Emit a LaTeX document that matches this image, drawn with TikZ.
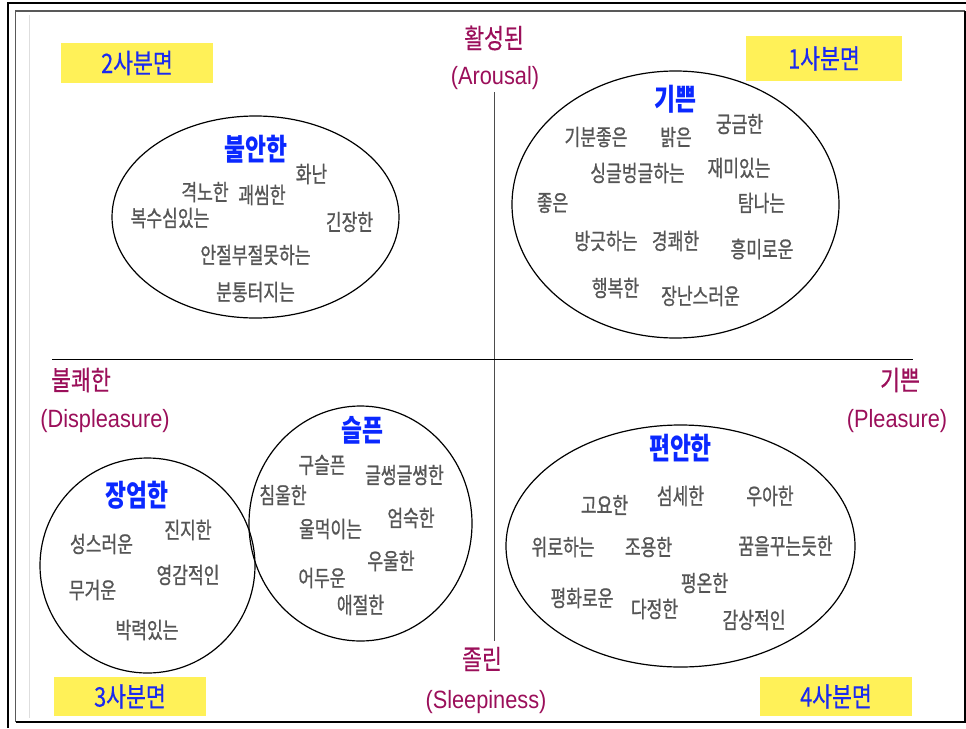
\documentclass[tikz,border=0pt]{standalone}
\usepackage{fontspec}
\setmainfont{Liberation Sans}
\newfontfamily\krw[FakeStretch=0.76,FakeBold=0.9]{Noto Sans CJK KR}
\newfontfamily\krt[FakeStretch=0.76]{Noto Sans CJK KR}
\newfontfamily\kra[FakeStretch=0.8,FakeBold=0.5]{Noto Sans CJK KR}
\newfontfamily\lat[FakeStretch=0.87]{Liberation Sans}
\usetikzlibrary{shapes.geometric}
\definecolor{axiscol}{HTML}{9B0F5A}
\definecolor{wordgray}{HTML}{555555}
\definecolor{titleblue}{HTML}{0A28FF}
\definecolor{quadblue}{HTML}{1A2AF0}
\definecolor{boxyellow}{HTML}{FFF158}
\tikzset{
  word/.style={font=\krw\fontsize{22.5}{23}\selectfont, text=wordgray, inner sep=0pt},
  title/.style={font=\krt\bfseries\fontsize{30}{31}\selectfont, text=titleblue, inner sep=0pt},
  axkr/.style={font=\kra\fontsize{27}{28}\selectfont, text=axiscol, inner sep=0pt},
  axen/.style={font=\lat\fontsize{25}{26}\selectfont, text=axiscol, inner sep=0pt},
  quadbox/.style={fill=boxyellow, inner sep=0pt, font=\kra\fontsize{27}{28}\selectfont, text=quadblue},
  cluster/.style={draw=black, line width=1.2pt, ellipse, inner sep=0pt},
  axisline/.style={line width=1pt},
}
\begin{document}
\begin{tikzpicture}[x=1pt,y=-1pt]
\useasboundingbox (0,0) rectangle (966,728);
% frame
\draw[line width=2pt, black] (8,728) -- (8,3) -- (966,3);
\draw[line width=1.5pt, black!65] (15.5,722) -- (15.5,11) -- (965,11);
\draw[line width=1.5pt, black] (15.5,722) -- (965,722) -- (965,11);
\draw[line width=0.8pt, black!13] (29,15) -- (29,718);
% axes
\coordinate (vtop) at (494,92);
\coordinate (vbot) at (494,641);
\coordinate (hleft) at (52,359);
\coordinate (hright) at (913,359);
\draw[axisline, black!70] (vtop) -- (vbot);
\draw[axisline, black] (hleft) -- (hright);
% axis labels
\node[axkr] (arK) at (494,38) {활성된};
\node[axen] (arE) at (495,78) {(Arousal)};
\node[axkr] (dpK) at (81,380) {불쾌한};
\node[axen] (dpE) at (105,421) {(Displeasure)};
\node[axkr] (plK) at (900,380) {기쁜};
\node[axen] (plE) at (897,421) {(Pleasure)};
\node[axkr] (slK) at (482,659) {졸린};
\node[axen] (slE) at (486,702) {(Sleepiness)};
% quadrant boxes
\node[quadbox, minimum width=152pt, minimum height=40pt] (q2) at (137,63) {2사분면};
\node[quadbox, minimum width=156pt, minimum height=45pt] (q1) at (824,58.5) {1사분면};
\node[quadbox, minimum width=152pt, minimum height=39pt] (q3) at (130,696.5) {3사분면};
\node[quadbox, minimum width=152pt, minimum height=39pt] (q4) at (836,696.5) {4사분면};
% clusters
\node[cluster, minimum width=287pt, minimum height=202pt] (e2) at (255.5,217) {};
\node[cluster, minimum width=327pt, minimum height=267pt] (e1) at (675.5,204.5) {};
\node[cluster, minimum width=215pt, minimum height=215pt] (e3a) at (147.5,565.5) {};
\node[cluster, minimum width=223pt, minimum height=235pt] (e3b) at (360.5,523.5) {};
\node[cluster, minimum width=349pt, minimum height=242pt] (e4) at (680.5,546) {};
% Q2 words
\node[title] (t2) at (256,149) {불안한};
\node[word] (w21) at (311.5,174) {화난};
\node[word] (w22) at (205,192) {격노한};
\node[word] (w23) at (262,195) {괘씸한};
\node[word] (w24) at (170,218) {복수심있는};
\node[word] (w25) at (349.5,222) {긴장한};
\node[word] (w26) at (255.5,255) {안절부절못하는};
\node[word] (w27) at (255.5,292) {분통터지는};
% Q1 words
\node[title] (t1) at (675.5,99) {기쁜};
\node[word] (w11) at (596,137) {기분좋은};
\node[word] (w12) at (676,137) {밝은};
\node[word] (w13) at (739.5,124) {궁금한};
\node[word] (w14) at (637.5,173) {싱글벙글하는};
\node[word] (w15) at (739,168) {재미있는};
\node[word] (w16) at (552.5,203) {좋은};
\node[word] (w17) at (761.5,203) {탐나는};
\node[word] (w18) at (606,241) {방긋하는};
\node[word] (w19) at (675.5,241) {경쾌한};
\node[word] (w110) at (762,249) {흥미로운};
\node[word] (w111) at (615.5,288) {행복한};
\node[word] (w112) at (700.5,296) {장난스러운};
% Q3 words (left circle)
\node[title] (t3a) at (137,495) {장엄한};
\node[word] (w31) at (188,530) {진지한};
\node[word] (w32) at (101.5,544) {성스러운};
\node[word] (w33) at (188,575) {영감적인};
\node[word] (w34) at (92.5,590) {무거운};
\node[word] (w35) at (147,630) {박력있는};
% Q3 words (right circle)
\node[title] (t3b) at (362.5,430) {슬픈};
\node[word] (w36) at (322,465) {구슬픈};
\node[word] (w37) at (404.5,475) {글썽글썽한};
\node[word] (w38) at (283,495) {침울한};
\node[word] (w39) at (330.5,529) {울먹이는};
\node[word] (w310) at (411,518) {엄숙한};
\node[word] (w311) at (391,561) {우울한};
\node[word] (w312) at (322,578) {어두운};
\node[word] (w313) at (360.5,605) {애절한};
% Q4 words
\node[title] (t4) at (680.5,448) {편안한};
\node[word] (w41) at (604.5,505) {고요한};
\node[word] (w42) at (680.5,496) {섬세한};
\node[word] (w43) at (770,496) {우아한};
\node[word] (w44) at (563,547) {위로하는};
\node[word] (w45) at (648.5,547) {조용한};
\node[word] (w46) at (785.5,546) {꿈을꾸는듯한};
\node[word] (w47) at (704.5,583) {평온한};
\node[word] (w48) at (582,598) {평화로운};
\node[word] (w49) at (654.5,609) {다정한};
\node[word] (w410) at (754,620) {감상적인};
\end{tikzpicture}
\end{document}
